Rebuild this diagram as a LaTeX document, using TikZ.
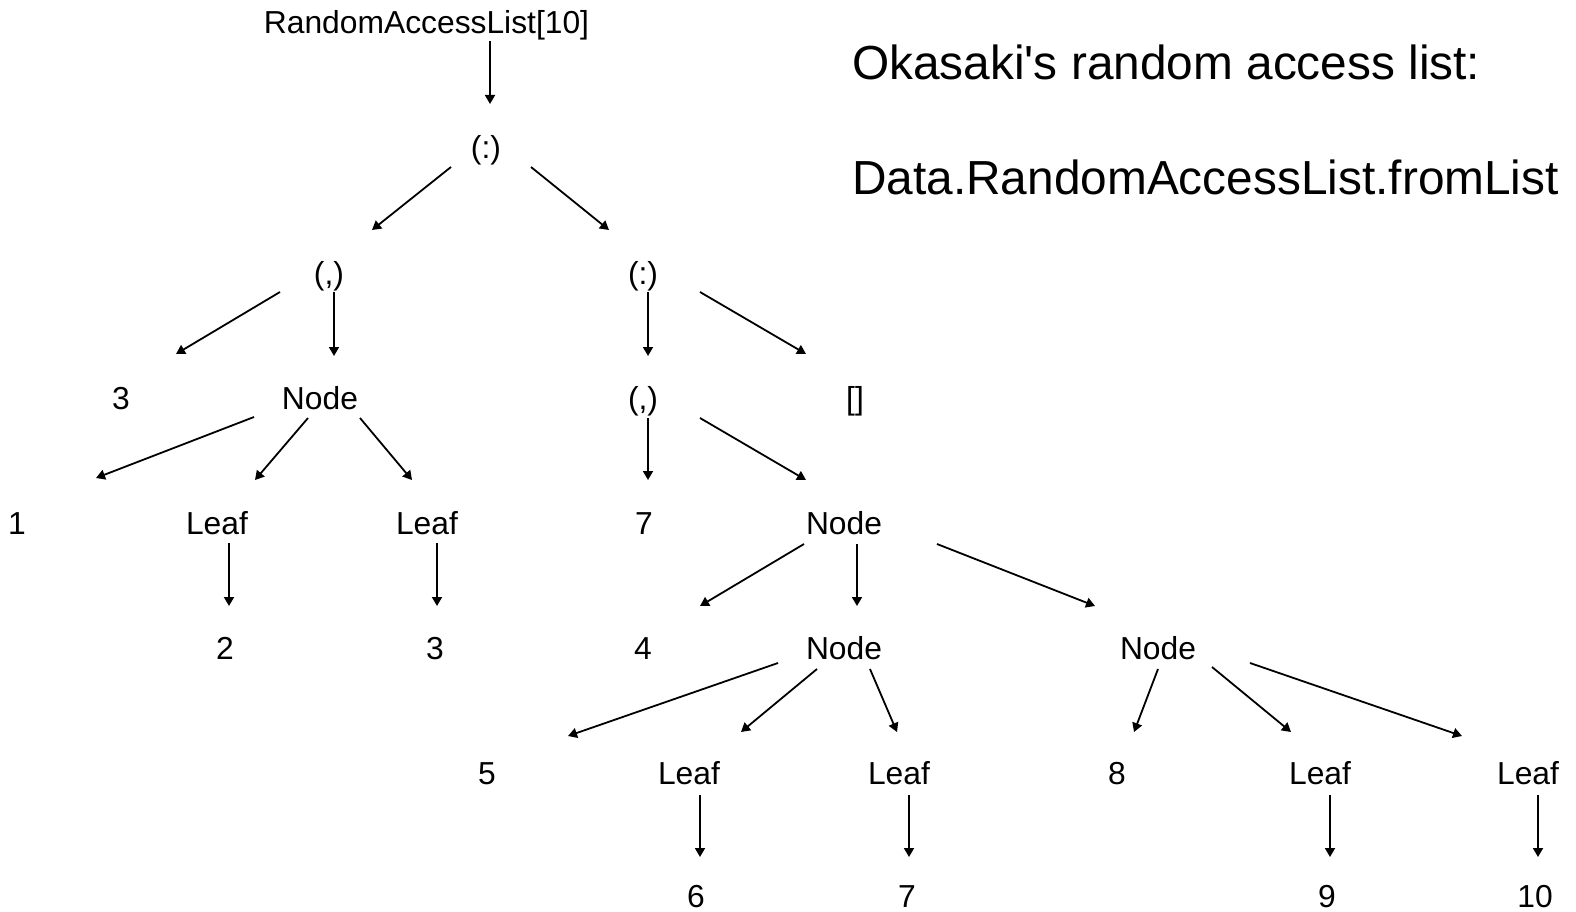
\documentclass[tikz,border=0pt]{standalone}
\usepackage{fontspec}
\setmainfont{Liberation Sans}[Ligatures=TeXOff]
\usetikzlibrary{arrows.meta}
\begin{document}
\begin{tikzpicture}[x=1pt,y=-1pt,
  lbl/.style={anchor=base,inner sep=0pt,font=\fontsize{31.8}{36}\selectfont},
  ttl/.style={anchor=base west,inner sep=0pt,font=\fontsize{47.8}{54}\selectfont},
  arr/.style={line width=1.8pt,-{Triangle[length=9pt,width=10pt]}}]
\useasboundingbox (0,0) rectangle (1576,912);
% titles
\node[ttl] (t1) at (852,80) {Okasaki's random access list:};
\node[ttl] (t2) at (852,194) {Data.RandomAccessList.fromList};
% tree labels
\node[lbl] (ral) at (426.5,34) {RandomAccessList[10]};
\node[lbl] (c1) at (486,159) {(:)};
\node[lbl] (p1) at (329,284) {(,)};
\node[lbl] (c2) at (643,284) {(:)};
\node[lbl] (n3) at (121,409.5) {3};
\node[lbl] (nA) at (320,409.5) {Node};
\node[lbl] (p2) at (643,409.5) {(,)};
\node[lbl] (nil) at (855,409.5) {[]};
\node[lbl] (n1) at (17,534.5) {1};
\node[lbl] (lA) at (217,534.5) {Leaf};
\node[lbl] (lB) at (427,534.5) {Leaf};
\node[lbl] (n7) at (644,534.5) {7};
\node[lbl] (nB) at (844,534.5) {Node};
\node[lbl] (n2) at (225,659.5) {2};
\node[lbl] (n3b) at (435,659.5) {3};
\node[lbl] (n4) at (643,659.5) {4};
\node[lbl] (nC) at (844,659.5) {Node};
\node[lbl] (nD) at (1158,659.5) {Node};
\node[lbl] (n5) at (487,784.5) {5};
\node[lbl] (lC) at (689,784.5) {Leaf};
\node[lbl] (lD) at (899,784.5) {Leaf};
\node[lbl] (n8) at (1117,784.5) {8};
\node[lbl] (lE) at (1320,784.5) {Leaf};
\node[lbl] (lF) at (1528,784.5) {Leaf};
\node[lbl] (n6) at (696,907) {6};
\node[lbl] (n7b) at (907,907) {7};
\node[lbl] (n9) at (1327,907) {9};
\node[lbl] (n10) at (1535,907) {10};
% connector end points
\coordinate (a1s) at (490,41);   \coordinate (a1e) at (490,104);
\coordinate (a2s) at (451,167);  \coordinate (a2e) at (372,230);
\coordinate (a3s) at (531,167);  \coordinate (a3e) at (609,230);
\coordinate (a4s) at (280,292);  \coordinate (a4e) at (176,354);
\coordinate (a5s) at (334,292);  \coordinate (a5e) at (334,356);
\coordinate (a6s) at (648,292);  \coordinate (a6e) at (648,356);
\coordinate (a7s) at (700,292);  \coordinate (a7e) at (806,354);
\coordinate (a8s) at (254,417);  \coordinate (a8e) at (96,478);
\coordinate (a9s) at (308,418);  \coordinate (a9e) at (255,480);
\coordinate (a10s) at (360,418); \coordinate (a10e) at (412,480);
\coordinate (a11s) at (648,418); \coordinate (a11e) at (648,480);
\coordinate (a12s) at (700,418); \coordinate (a12e) at (806,480);
\coordinate (a13s) at (229,543); \coordinate (a13e) at (229,606);
\coordinate (a14s) at (437,543); \coordinate (a14e) at (437,606);
\coordinate (a15s) at (804,544); \coordinate (a15e) at (700,606);
\coordinate (a16s) at (857,544); \coordinate (a16e) at (857,606);
\coordinate (a17s) at (937,544); \coordinate (a17e) at (1095,606);
\coordinate (a18s) at (778,663); \coordinate (a18e) at (568,736);
\coordinate (a19s) at (817,669); \coordinate (a19e) at (741,732);
\coordinate (a20s) at (870,669); \coordinate (a20e) at (897,732);
\coordinate (a21s) at (1158,669); \coordinate (a21e) at (1134,732);
\coordinate (a22s) at (1212,667); \coordinate (a22e) at (1291,732);
\coordinate (a23s) at (1250,663); \coordinate (a23e) at (1462,736);
\coordinate (a24s) at (700,795); \coordinate (a24e) at (700,857);
\coordinate (a25s) at (909,795); \coordinate (a25e) at (909,857);
\coordinate (a26s) at (1330,795); \coordinate (a26e) at (1330,857);
\coordinate (a27s) at (1538,795); \coordinate (a27e) at (1538,857);
\foreach \i in {1,...,27} {\draw[arr] (a\i s) -- (a\i e);}
\end{tikzpicture}
\end{document}
